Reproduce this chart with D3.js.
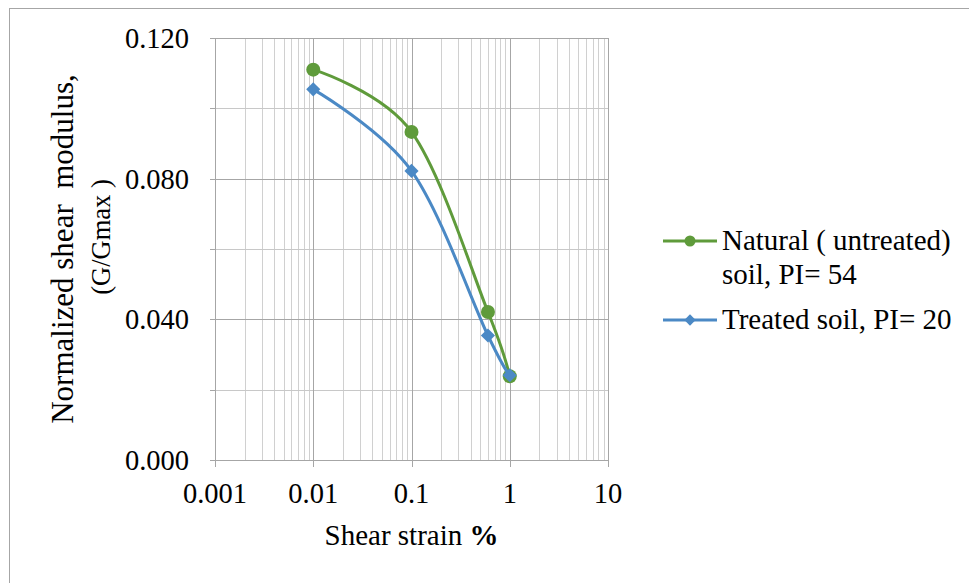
<!DOCTYPE html>
<html><head><meta charset="utf-8">
<script src="https://cdn.jsdelivr.net/npm/d3@7"></script>
<style>
body{margin:0;background:#fff}
svg{display:block}
text{font-family:"Liberation Serif","Times New Roman",serif;fill:#000}
</style>
</head><body>
<svg id="c" width="969" height="583"></svg>
<script>
// ---- data ----
const strain = [0.01, 0.1, 0.6, 1];
const naturalSoil = [0.111, 0.0933, 0.0421, 0.0238];
const treatedSoil = [0.1054, 0.0822, 0.0354, 0.0241];
const xTickValues = [0.001, 0.01, 0.1, 1, 10];
const xTickLabels = ["0.001", "0.01", "0.1", "1", "10"];
const yTickValues = [0, 0.04, 0.08, 0.12];
const yTickLabels = ["0.000", "0.040", "0.080", "0.120"];
const yMinorValues = [0.02, 0.06, 0.10];
const seriesNames = [["Natural ( untreated)", "soil, PI= 54"], ["Treated soil, PI= 20"]];
const seriesColors = ["#5f9b3b", "#4b89c5"];

const svg = d3.select("#c");
const L = 215, R = 608, T = 38, B = 460;
const x = d3.scaleLog().domain([0.001, 10]).range([L, R]);
const y = d3.scaleLinear().domain([0, 0.12]).range([B, T]);

// outer chart border
svg.append("rect").attr("x", 9.5).attr("y", 8.5).attr("width", 1000).attr("height", 1000)
  .attr("fill", "none").attr("stroke", "#a6a6a6");

// minor vertical gridlines
const minorX = [];
for (let e = -3; e < 1; e++) for (let k = 2; k <= 9; k++) minorX.push(k * Math.pow(10, e));
const g = svg.append("g");
g.selectAll("line.mx").data(minorX).join("line")
  .attr("x1", d => Math.round(x(d)) + 0.5).attr("x2", d => Math.round(x(d)) + 0.5)
  .attr("y1", T).attr("y2", B).attr("stroke", "#d0d0d0").attr("stroke-width", 1);
// minor horizontal gridlines
g.selectAll("line.my").data(yMinorValues).join("line")
  .attr("x1", L).attr("x2", R)
  .attr("y1", d => Math.round(y(d)) + 0.5).attr("y2", d => Math.round(y(d)) + 0.5)
  .attr("stroke", "#c8c8c8");
// major gridlines
g.selectAll("line.Mx").data(xTickValues).join("line")
  .attr("x1", d => Math.round(x(d)) + 0.5).attr("x2", d => Math.round(x(d)) + 0.5)
  .attr("y1", T).attr("y2", B).attr("stroke", "#a6a6a6");
g.selectAll("line.My").data(yTickValues).join("line")
  .attr("x1", L).attr("x2", R)
  .attr("y1", d => Math.round(y(d)) + 0.5).attr("y2", d => Math.round(y(d)) + 0.5)
  .attr("stroke", "#a6a6a6");

// y ticks (every 0.02)
const yAllTicks = yTickValues.concat(yMinorValues);
g.selectAll("line.yt").data(yAllTicks).join("line")
  .attr("x1", L - 5).attr("x2", L)
  .attr("y1", d => Math.round(y(d)) + 0.5).attr("y2", d => Math.round(y(d)) + 0.5)
  .attr("stroke", "#a6a6a6");
// x major ticks
g.selectAll("line.xt").data(xTickValues).join("line")
  .attr("x1", d => Math.round(x(d)) + 0.5).attr("x2", d => Math.round(x(d)) + 0.5)
  .attr("y1", B).attr("y2", B + 7).attr("stroke", "#a6a6a6");

// tick labels
svg.selectAll("text.yl").data(yTickValues).join("text")
  .attr("x", 189).attr("y", d => y(d) + 10).attr("text-anchor", "end")
  .attr("font-size", 28.5).text((d, i) => yTickLabels[i]);
svg.selectAll("text.xl").data(xTickValues).join("text")
  .attr("x", d => x(d)).attr("y", 503).attr("text-anchor", "middle")
  .attr("font-size", 28.5).text((d, i) => xTickLabels[i]);

// axis titles
const xt = svg.append("text").attr("x", (L + R) / 2).attr("y", 545).attr("text-anchor", "middle").attr("font-size", 29);
xt.append("tspan").text("Shear strain ");
xt.append("tspan").attr("font-weight", "bold").text("%");

svg.append("text").attr("transform", "translate(73,249) rotate(-90)")
  .attr("text-anchor", "middle").attr("font-size", 31)
  .style("white-space", "pre").text("Normalized shear  modulus,");
svg.append("text").attr("transform", "translate(110,237) rotate(-90)")
  .attr("text-anchor", "middle").attr("font-size", 26.5)
  .style("white-space", "pre").text("(G/Gmax )");

// series
const series = [naturalSoil, treatedSoil];
const line = d3.line().x(d => x(d[0])).y(d => y(d[1])).curve(d3.curveCatmullRom.alpha(0));
series.forEach((vals, si) => {
  const pts = strain.map((s, i) => [s, vals[i]]);
  svg.append("path").attr("d", line(pts)).attr("fill", "none")
    .attr("stroke", seriesColors[si]).attr("stroke-width", 3);
  if (si === 0) {
    svg.selectAll("circle.m" + si).data(pts).join("circle")
      .attr("cx", d => x(d[0])).attr("cy", d => y(d[1])).attr("r", 7)
      .attr("fill", seriesColors[si]);
  } else {
    svg.selectAll("path.m" + si).data(pts).join("path")
      .attr("d", d3.symbol(d3.symbolSquare, 100)())
      .attr("transform", d => `translate(${x(d[0])},${y(d[1])}) rotate(45)`)
      .attr("fill", seriesColors[si]);
  }
});

// legend
const legY = [241, 320];
const legTextY = [[249.5, 284], [329]];
series.forEach((vals, si) => {
  svg.append("line").attr("x1", 663).attr("x2", 717).attr("y1", legY[si]).attr("y2", legY[si])
    .attr("stroke", seriesColors[si]).attr("stroke-width", 3);
  if (si === 0) {
    svg.append("circle").attr("cx", 690).attr("cy", legY[si]).attr("r", 5.5).attr("fill", seriesColors[si]);
  } else {
    svg.append("path").attr("d", d3.symbol(d3.symbolSquare, 64)())
      .attr("transform", `translate(690,${legY[si]}) rotate(45)`).attr("fill", seriesColors[si]);
  }
  seriesNames[si].forEach((ln, li) => {
    svg.append("text").attr("x", 722).attr("y", legTextY[si][li]).attr("font-size", 29)
      .style("white-space", "pre").text(ln);
  });
});
</script>
</body></html>
